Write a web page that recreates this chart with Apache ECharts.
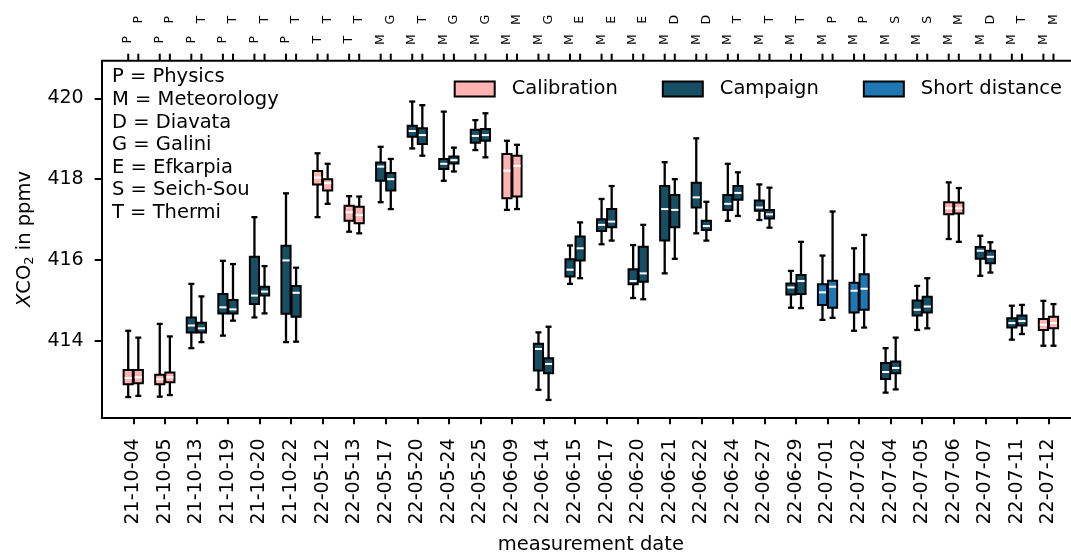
<!DOCTYPE html>
<html>
<head>
<meta charset="utf-8">
<script src="https://cdn.jsdelivr.net/npm/echarts@6/dist/echarts.min.js"></script>
<style>
  html, body { margin: 0; padding: 0; background: #fff; }
  #chart { width: 1071px; height: 554px; }
</style>
</head>
<body>
<div id="chart"></div>
<script>
// Measurement dates (one pair of boxes per date)
const dates = ['21-10-04','21-10-05','21-10-13','21-10-19','21-10-20','21-10-22',
  '22-05-12','22-05-13','22-05-17','22-05-20','22-05-24','22-05-25','22-06-09',
  '22-06-14','22-06-15','22-06-17','22-06-20','22-06-21','22-06-22','22-06-24',
  '22-06-27','22-06-29','22-07-01','22-07-02','22-07-04','22-07-05','22-07-06',
  '22-07-07','22-07-11','22-07-12'];

// Site letter of each instrument (left box / right box)
const siteLeft = ['P','P','P','P','P','P','T','T','M','M','M','M','M','M','M',
  'M','M','M','M','M','M','M','M','M','M','M','M','M','M','M'];
const siteRight = ['P','P','T','T','T','T','T','T','G','T','G','G','M','G','E',
  'E','E','D','D','T','T','T','P','P','S','S','M','D','T','M'];

// Measurement type per date
const kinds = ['Calibration','Calibration','Campaign','Campaign','Campaign','Campaign',
  'Calibration','Calibration','Campaign','Campaign','Campaign','Campaign','Calibration',
  'Campaign','Campaign','Campaign','Campaign','Campaign','Campaign','Campaign',
  'Campaign','Campaign','Short distance','Short distance','Campaign','Campaign',
  'Calibration','Campaign','Campaign','Calibration'];

// XCO2 statistics [whisker low, Q1, median, Q3, whisker high] in ppmv
const statsLeft = [
  [412.61, 412.93, 413.08, 413.28, 414.25],
  [412.62, 412.93, 413.05, 413.16, 414.42],
  [413.82, 414.21, 414.38, 414.58, 415.41],
  [414.13, 414.68, 414.83, 415.16, 415.98],
  [414.58, 414.91, 415.12, 416.08, 417.06],
  [413.97, 414.67, 415.99, 416.35, 417.65],
  [417.06, 417.87, 418.04, 418.20, 418.64],
  [416.70, 416.97, 417.18, 417.34, 417.58],
  [417.43, 417.96, 418.31, 418.41, 418.80],
  [418.76, 419.05, 419.19, 419.32, 419.92],
  [417.96, 418.25, 418.38, 418.50, 419.67],
  [418.72, 418.90, 419.07, 419.22, 419.46],
  [417.24, 417.53, 418.21, 418.62, 418.95],
  [412.79, 413.27, 413.80, 413.93, 414.21],
  [415.41, 415.59, 415.76, 416.02, 416.36],
  [416.39, 416.72, 416.87, 417.01, 417.51],
  [415.06, 415.40, 415.48, 415.77, 416.37],
  [415.67, 416.48, 417.26, 417.83, 418.42],
  [416.66, 417.30, 417.55, 417.91, 419.01],
  [416.97, 417.24, 417.39, 417.61, 418.38],
  [416.99, 417.22, 417.30, 417.47, 417.87],
  [414.82, 415.15, 415.32, 415.42, 415.73],
  [414.52, 414.89, 415.20, 415.40, 416.11],
  [414.25, 414.70, 415.24, 415.44, 416.29],
  [412.72, 413.06, 413.23, 413.45, 413.82],
  [414.27, 414.63, 414.77, 415.00, 415.36],
  [416.52, 417.13, 417.28, 417.43, 417.92],
  [415.61, 416.03, 416.23, 416.32, 416.60],
  [414.03, 414.33, 414.44, 414.56, 414.87],
  [413.88, 414.27, 414.40, 414.54, 414.99]
];
const statsRight = [
  [412.64, 412.95, 413.10, 413.28, 414.08],
  [412.66, 412.98, 413.10, 413.22, 414.11],
  [413.97, 414.21, 414.31, 414.45, 415.10],
  [414.50, 414.68, 414.78, 415.01, 415.90],
  [414.68, 415.12, 415.22, 415.34, 415.85],
  [413.98, 414.60, 415.19, 415.36, 415.81],
  [417.39, 417.72, 417.90, 418.00, 418.38],
  [416.66, 416.91, 417.11, 417.32, 417.57],
  [417.26, 417.72, 418.00, 418.15, 418.50],
  [418.58, 418.87, 419.09, 419.26, 419.83],
  [418.19, 418.39, 418.47, 418.56, 418.78],
  [418.54, 418.95, 419.09, 419.24, 419.63],
  [417.26, 417.57, 418.33, 418.58, 418.85],
  [412.54, 413.20, 413.43, 413.57, 414.35],
  [415.55, 415.99, 416.29, 416.58, 416.93],
  [416.48, 416.81, 416.95, 417.26, 417.83],
  [415.03, 415.46, 415.67, 416.33, 416.87],
  [416.03, 416.81, 417.24, 417.61, 418.00],
  [416.48, 416.74, 416.84, 416.97, 417.44],
  [417.09, 417.49, 417.66, 417.83, 418.17],
  [416.80, 417.03, 417.13, 417.24, 417.79],
  [414.81, 415.16, 415.48, 415.63, 416.45],
  [414.57, 414.82, 415.34, 415.49, 417.20],
  [414.33, 414.77, 415.29, 415.65, 416.62],
  [412.80, 413.20, 413.33, 413.49, 414.08],
  [414.31, 414.70, 414.85, 415.09, 415.55],
  [416.45, 417.15, 417.28, 417.42, 417.78],
  [415.69, 415.92, 416.08, 416.23, 416.44],
  [414.17, 414.38, 414.49, 414.63, 414.89],
  [413.88, 414.31, 414.44, 414.60, 414.91]
];

const yTicks = [414, 416, 418, 420];
const kindNames = ['Calibration', 'Campaign', 'Short distance'];
const siteKey = ['P = Physics', 'M = Meteorology', 'D = Diavata', 'G = Galini',
  'E = Efkarpia', 'S = Seich-Sou', 'T = Thermi'];

// ---- styling ----
const FONT = 'DejaVu Sans';
const kindColor = {
  'Calibration': '#ffb3b3',
  'Campaign': '#164e63',
  'Short distance': '#1f77b4'
};
const X_MIN = -1, X_MAX = 30;
const Y_MIN = 412.11, Y_MAX = 420.93;
const SHIFT = 0.16;      // half distance between paired boxes (date units)
const BOX_W = 0.29;      // box width (date units)
const CAP_W = 0.19;      // whisker cap width (date units)
const LW = 2;            // outline width
const WLW = 2.3;         // whisker width
const TICK = 7;          // tick length in px

const dateIdx = dates.map((_, i) => i);

function buildData(kind) {
  const out = [];
  dates.forEach((d, i) => {
    if (kinds[i] !== kind) return;
    out.push([i, -1].concat(statsLeft[i]));
    out.push([i, 1].concat(statsRight[i]));
  });
  return out;
}

function renderBox(params, api) {
  const i = api.value(0);
  const side = api.value(1);
  const x = i + side * SHIFT;
  const unit = api.size([1, 0])[0];
  const cx = api.coord([x, 0])[0];
  const yLo = api.coord([x, api.value(2)])[1];
  const yQ1 = api.coord([x, api.value(3)])[1];
  const yMed = api.coord([x, api.value(4)])[1];
  const yQ3 = api.coord([x, api.value(5)])[1];
  const yHi = api.coord([x, api.value(6)])[1];
  const bw = BOX_W * unit;
  const cw = CAP_W * unit;
  const fill = api.visual('color');
  const line = { stroke: '#000', lineWidth: WLW };
  return {
    type: 'group',
    children: [
      { type: 'line', shape: { x1: cx, y1: yQ1, x2: cx, y2: yLo }, style: line },
      { type: 'line', shape: { x1: cx, y1: yQ3, x2: cx, y2: yHi }, style: line },
      { type: 'line', shape: { x1: cx - cw / 2, y1: yLo, x2: cx + cw / 2, y2: yLo }, style: line },
      { type: 'line', shape: { x1: cx - cw / 2, y1: yHi, x2: cx + cw / 2, y2: yHi }, style: line },
      { type: 'rect', shape: { x: cx - bw / 2, y: yQ3, width: bw, height: yQ1 - yQ3 },
        style: { fill: fill, stroke: '#000', lineWidth: LW } },
      { type: 'line', shape: { x1: cx - bw / 2 + 1, y1: yMed, x2: cx + bw / 2 - 1, y2: yMed },
        style: { stroke: '#fff', lineWidth: 2 } }
    ]
  };
}

// Upper frame edge with one tick per instrument and its site letter
// (left instrument letters close to the frame, right instrument one row further out)
function renderSite(params, api) {
  const i = api.value(0);
  const side = api.value(1);
  const p = api.coord([i + side * SHIFT, Y_MAX]);
  const letter = side < 0 ? siteLeft[i] : siteRight[i];
  const centerGap = side < 0 ? 21 : 41;
  const children = [
    { type: 'line', shape: { x1: p[0], y1: p[1], x2: p[0], y2: p[1] - TICK },
      style: { stroke: '#000', lineWidth: LW } },
    {
      type: 'text',
      x: p[0],
      y: p[1] - centerGap,
      rotation: Math.PI / 2,
      style: {
        text: letter,
        fontFamily: FONT,
        fontSize: 12.5,
        fill: '#000',
        align: 'center',
        verticalAlign: 'middle'
      }
    }
  ];
  if (i === 0 && side < 0) {
    const a = api.coord([X_MIN, Y_MAX]);
    const b = api.coord([X_MAX, Y_MAX]);
    children.push({ type: 'line', shape: { x1: a[0], y1: a[1], x2: b[0], y2: b[1] },
      style: { stroke: '#000', lineWidth: LW } });
  }
  return { type: 'group', children: children };
}

const series = kindNames.map(k => ({
  name: k,
  type: 'custom',
  renderItem: renderBox,
  itemStyle: { color: kindColor[k], borderColor: '#000', borderWidth: LW },
  encode: { x: 0, y: [2, 3, 4, 5, 6] },
  data: buildData(k),
  silent: true,
  animation: false
}));

series.push({
  name: 'sites',
  type: 'custom',
  renderItem: renderSite,
  clip: false,
  encode: { x: 0 },
  data: dateIdx.map(i => [i, -1]).concat(dateIdx.map(i => [i, 1])),
  silent: true,
  animation: false
});

const chart = echarts.init(document.getElementById('chart'), null, { renderer: 'canvas' });

chart.setOption({
  backgroundColor: '#fff',
  animation: false,
  textStyle: { fontFamily: FONT },
  grid: {
    left: 101.7, top: 60.7, right: -9, bottom: 136.7,
    containLabel: false,
    outerBoundsMode: 'none'
  },
  legend: {
    right: 4,
    top: 74,
    icon: 'rect',
    itemWidth: 40,
    itemHeight: 15,
    itemGap: 44,
    data: kindNames.map(k => ({
      name: k,
      itemStyle: { color: kindColor[k], borderColor: '#000', borderWidth: LW }
    })),
    textStyle: { fontFamily: FONT, fontSize: 19.5, color: '#000', padding: [0, 0, 0, 12] }
  },
  xAxis: {
    type: 'value',
    position: 'bottom',
    min: X_MIN,
    max: X_MAX,
    splitLine: { show: false },
    axisLine: { show: true, onZero: false, lineStyle: { color: '#000', width: LW } },
    axisTick: { show: true, length: TICK, lineStyle: { color: '#000', width: LW }, customValues: dateIdx },
    axisLabel: {
      customValues: dateIdx,
      rotate: 90,
      margin: 21,
      fontFamily: FONT,
      fontSize: 19,
      color: '#000',
      formatter: v => dates[Math.round(v)] || ''
    },
    name: 'measurement date',
    nameLocation: 'middle',
    nameGap: 118,
    nameTextStyle: { fontFamily: FONT, fontSize: 19.5, color: '#000' }
  },
  yAxis: {
    type: 'value',
    min: Y_MIN,
    max: Y_MAX,
    splitLine: { show: false },
    axisLine: { show: true, onZero: false, lineStyle: { color: '#000', width: LW } },
    axisTick: { show: true, length: TICK, lineStyle: { color: '#000', width: LW }, customValues: yTicks },
    axisLabel: { customValues: yTicks, margin: 18, fontFamily: FONT, fontSize: 19, color: '#000' },
    name: '{i|X}{t|CO}{s|2}{t| in ppmv}',
    nameLocation: 'middle',
    nameRotate: 90,
    nameGap: 64,
    nameTextStyle: {
      fontFamily: FONT, fontSize: 19.5, color: '#000',
      rich: {
        i: { fontFamily: FONT, fontSize: 19.5, fontStyle: 'italic', color: '#000', lineHeight: 24 },
        t: { fontFamily: FONT, fontSize: 19.5, color: '#000', lineHeight: 24 },
        s: { fontFamily: FONT, fontSize: 13, color: '#000', verticalAlign: 'bottom', lineHeight: 24 }
      }
    }
  },
  graphic: [{
    type: 'text',
    left: 112,
    top: 66,
    style: {
      text: siteKey.join('\n'),
      fontFamily: FONT,
      fontSize: 19.5,
      lineHeight: 22.6,
      fill: '#000'
    }
  }],
  series: series
});
</script>
</body>
</html>
